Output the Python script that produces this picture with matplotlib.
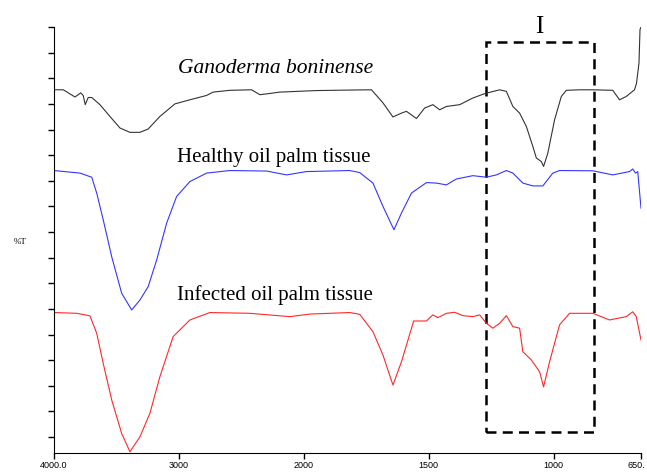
import numpy as np
import matplotlib
matplotlib.use("Agg")
import matplotlib.pyplot as plt
import matplotlib.transforms as mtransforms
from matplotlib.patches import Rectangle

# FTIR spectra, wavenumber (cm-1) vs %T (offset, arbitrary units)
gano_wn = [4000, 3926, 3832, 3786, 3766, 3750, 3726, 3698, 3632, 3552, 3472, 3392,
           3312, 3246, 3152, 3032, 2912, 2778, 2726, 2592, 2418, 2352, 2298, 2192,
           1949, 1816, 1729, 1683, 1643, 1609, 1589, 1549, 1516, 1483, 1456, 1429,
           1376, 1323, 1276, 1216, 1189, 1163, 1136, 1109, 1083, 1069, 1049, 1040,
           1023, 996, 969, 949, 896, 843, 763, 736, 709, 676, 668, 658, 654, 650]
gano_t = [13.55, 13.55, 13.27, 13.43, 13.33, 12.97, 13.25, 13.25, 12.97, 12.51, 12.06, 11.89,
          11.89, 12.02, 12.51, 13.00, 13.16, 13.33, 13.46, 13.53, 13.55, 13.36, 13.39, 13.46,
          13.52, 13.54, 13.55, 13.04, 12.49, 12.64, 12.71, 12.43, 12.84, 12.97, 12.77, 12.90,
          12.97, 13.23, 13.40, 13.55, 13.49, 12.90, 12.64, 12.12, 11.34, 10.89, 10.75, 10.56,
          11.08, 12.38, 13.29, 13.53, 13.55, 13.55, 13.53, 13.16, 13.29, 13.55, 13.8, 14.6, 15.9, 16.0]

healthy_wn = [4000, 3792, 3698, 3658, 3606, 3538, 3458, 3378, 3312, 3246, 3178, 3098,
              3018, 2912, 2778, 2592, 2298, 2138, 1989, 1816, 1776, 1723, 1683, 1639,
              1609, 1569, 1509, 1469, 1429, 1389, 1323, 1269, 1229, 1189, 1163, 1123,
              1083, 1043, 1003, 976, 843, 763, 696, 683, 672, 663, 650]
healthy_t = [10.40, 10.30, 10.14, 9.52, 8.48, 7.04, 5.61, 4.96, 5.35, 5.87, 6.91, 8.35,
             9.39, 9.97, 10.30, 10.40, 10.38, 10.23, 10.36, 10.40, 10.32, 9.91, 9.00, 8.09,
             8.74, 9.52, 9.93, 9.91, 9.84, 10.07, 10.20, 10.14, 10.23, 10.40, 10.30, 9.91,
             9.80, 9.80, 10.30, 10.40, 10.39, 10.23, 10.36, 10.46, 10.30, 10.36, 8.93]

infected_wn = [4000, 3818, 3712, 3658, 3606, 3538, 3458, 3392, 3312, 3232, 3152, 3046,
               2912, 2752, 2432, 2112, 1976, 1816, 1776, 1723, 1683, 1643, 1609, 1560,
               1509, 1483, 1463, 1429, 1396, 1363, 1323, 1296, 1269, 1243, 1216, 1189,
               1163, 1136, 1123, 1089, 1056, 1040, 1016, 976, 936, 843, 776, 709, 683,
               669, 650]
infected_t = [4.86, 4.83, 4.73, 4.05, 2.88, 1.45, 0.14, -0.57, 0.01, 0.93, 2.36, 3.92,
              4.57, 4.86, 4.83, 4.70, 4.80, 4.86, 4.79, 4.11, 3.20, 2.03, 2.94, 4.53,
              4.53, 4.77, 4.66, 4.83, 4.87, 4.74, 4.70, 4.77, 4.44, 4.25, 4.44, 4.74,
              4.31, 4.25, 3.33, 3.01, 2.55, 1.96, 2.94, 4.38, 4.83, 4.83, 4.57, 4.70, 4.89,
              4.70, 3.79]

xticks = [4000, 3000, 2000, 1500, 1000, 650]
xtick_labels = ["4000.0", "3000", "2000", "1500", "1000", "650."]
box_wn = (1272, 840)
box_t = (0.2, 15.43)


# FTIR plots are stretched 2x below 2000 cm-1
def fwd(w):
    w = np.asarray(w, dtype=float)
    return np.where(w > 2000, 2000 + (w - 2000) * 0.5, w)


def inv(p):
    p = np.asarray(p, dtype=float)
    return np.where(p > 2000, 2000 + (p - 2000) * 2.0, p)


fig = plt.figure(figsize=(6.47, 4.72), dpi=100)
ax = fig.add_axes([54 / 647, 1 - 453 / 472, (641 - 54) / 647, (453 - 27) / 472])
ax.set_xscale("function", functions=(fwd, inv))

ax.plot(gano_wn, gano_t, color="#333333", lw=0.8)
ax.plot(healthy_wn, healthy_t, color="#3535ff", lw=0.8)
ax.plot(infected_wn, infected_t, color="#ff2828", lw=0.8)

ax.set_xlim(4000, 650)
ax.set_ylim(-0.62, 16)

ax.add_patch(Rectangle((box_wn[0], box_t[0]), box_wn[1] - box_wn[0], box_t[1] - box_t[0],
                       fill=False, ec="black", lw=1.8, ls=(0, (4, 2.5)), clip_on=False))

serif = "Liberation Serif"
ax.text(1056, 16.0, "I", fontsize=18, family=serif, ha="center", va="center")
ax.text(3008, 14.22, "Ganoderma boninense", fontsize=15.5, family=serif, style="italic")
ax.text(3016, 10.74, "Healthy oil palm tissue", fontsize=15, family=serif)
ax.text(3016, 5.35, "Infected oil palm tissue", fontsize=15, family=serif)

ax.set_xticks(xticks)
ax.set_xticklabels(xtick_labels, fontsize=6.5, family="Liberation Sans")
ax.minorticks_off()
ax.set_yticks(np.arange(0, 17))
ax.set_yticklabels([])
ax.tick_params(direction="out", length=4, width=1, pad=2)
for s in ["top", "right"]:
    ax.spines[s].set_visible(False)
ax.spines["left"].set_bounds(-0.62, 16)

# keep the last tick label inside the canvas
last = ax.get_xticklabels()[-1]
last.set_transform(last.get_transform() + mtransforms.ScaledTranslation(-5 / 100, 0, fig.dpi_scale_trans))

fig.text(20 / 647, 1 - 242 / 472, "%T", fontsize=6.5, family=serif, ha="center", va="center")

fig.savefig("out.png", dpi=100)
